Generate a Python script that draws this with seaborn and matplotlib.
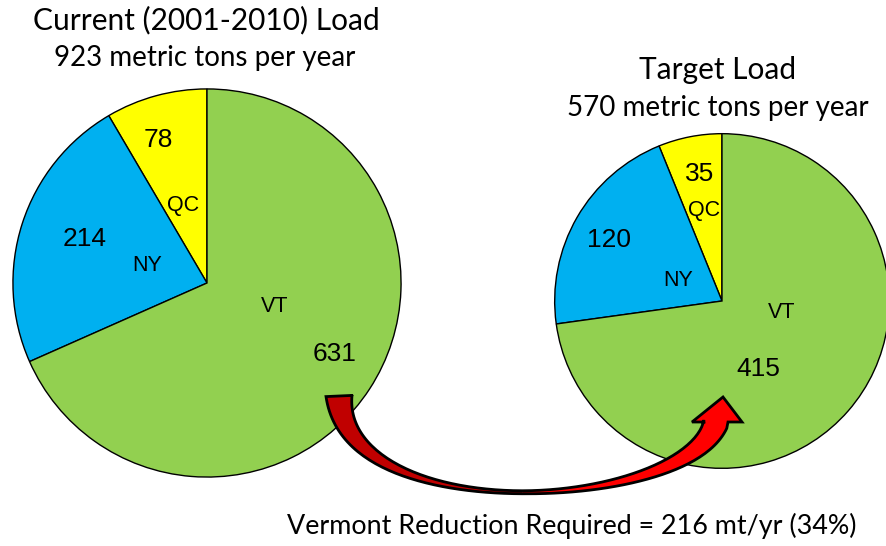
import numpy as np
import seaborn as sns
import matplotlib.pyplot as plt

# Load shares by jurisdiction, metric tons per year
regions = ["QC", "NY", "VT"]
current_load = [78, 214, 631]
target_load = [35, 120, 415]
colors = ["#FFFF00", "#00B0F0", "#92D050"]

current_title = "Current (2001-2010) Load"
target_title = "Target Load"
reduction_text = "Vermont Reduction Required = 216 mt/yr (34%)"

sns.set_style("white")
plt.rcParams["font.family"] = ["Lato", "DejaVu Sans"]
plt.rcParams["text.color"] = "black"

W, H = 887, 546
fig = plt.figure(figsize=(W / 100, H / 100), dpi=100)


def pie_axes(cx, cy, r):
    # pixel center / radius -> figure fraction axes
    return fig.add_axes([(cx - r) / W, (H - cy - r) / H, 2 * r / W, 2 * r / H])


# label spots (angle deg, radius fraction) for number and region name
left_num = [(108.8, 0.78), (160.3, 0.67), (-29, 0.75)]
left_reg = [(107, 0.42), (164, 0.32), (-19, 0.37)]
right_num = [(100, 0.77), (151.5, 0.77), (-62, 0.46)]
right_reg = [(101, 0.55), (155, 0.29), (-10.6, 0.36)]


def draw_pie(ax, values, num_pos, reg_pos):
    ax.pie(values, colors=colors, startangle=90, counterclock=True,
           wedgeprops=dict(edgecolor="black", linewidth=1.0))
    ax.set_xlim(-1.01, 1.01)
    ax.set_ylim(-1.01, 1.01)
    ax.set_aspect("equal")
    ax.axis("off")
    for v, name, (a1, r1), (a2, r2) in zip(values, regions, num_pos, reg_pos):
        t1, t2 = np.radians(a1), np.radians(a2)
        ax.text(r1 * np.cos(t1), r1 * np.sin(t1), str(v), ha="center", va="center",
                fontsize=19, family="Liberation Sans", color="black")
        ax.text(r2 * np.cos(t2), r2 * np.sin(t2), name, ha="center", va="center",
                fontsize=15.5, family="Liberation Sans", color="black")


ax_left = pie_axes(207, 283, 196)
draw_pie(ax_left, current_load, left_num, left_reg)
ax_right = pie_axes(722, 301, 169)
draw_pie(ax_right, target_load, right_num, right_reg)

fig.text(206 / W, 1 - 20 / H, current_title, ha="center", va="center", fontsize=21.5)
fig.text(205 / W, 1 - 58 / H, f"{sum(current_load)} metric tons per year",
         ha="center", va="center", fontsize=20)
fig.text(718 / W, 1 - 70 / H, target_title, ha="center", va="center", fontsize=21.5)
fig.text(718 / W, 1 - 108 / H, f"{sum(target_load)} metric tons per year",
         ha="center", va="center", fontsize=20)
fig.text(572 / W, 1 - 526 / H, reduction_text, ha="center", va="center", fontsize=19.4)

# curved reduction arrow, drawn in pixel space on top
ov = fig.add_axes([0, 0, 1, 1], zorder=5)
ov.set_xlim(0, W)
ov.set_ylim(H, 0)
ov.axis("off")

P = np.array([[339, 396], [345, 530], [690, 510], [716, 422]], float)
t = np.linspace(0, 1, 120)[:, None]
c = ((1 - t) ** 3 * P[0] + 3 * (1 - t) ** 2 * t * P[1]
     + 3 * (1 - t) * t ** 2 * P[2] + t ** 3 * P[3])
d = (-3 * (1 - t) ** 2 * P[0] + 3 * (1 - 4 * t + 3 * t ** 2) * P[1]
     + 3 * (2 * t - 3 * t ** 2) * P[2] + 3 * t ** 2 * P[3])
d /= np.linalg.norm(d, axis=1, keepdims=True)
n = np.column_stack([-d[:, 1], d[:, 0]])
tt = t[:, 0]
w = np.where(tt < 0.5, 3 + 23 * (1 - tt / 0.5) ** 2, 3 + 22 * ((tt - 0.5) / 0.5) ** 1.6)
side_a = c + n * w[:, None] / 2
side_b = c - n * w[:, None] / 2
side_a[-1, 1] = 422
side_b[-1, 1] = 422
barbs = np.array([[692, 422], [723, 397], [742, 422]])
if side_a[-1, 0] > side_b[-1, 0]:
    side_a, side_b = side_b, side_a

half = len(tt) // 2
dark = np.vstack([side_a[:half + 1], side_b[:half + 1][::-1]])
bright = np.vstack([side_a[half:], barbs, side_b[half:][::-1]])
ov.fill(dark[:, 0], dark[:, 1], color="#C00000", lw=0)
ov.fill(bright[:, 0], bright[:, 1], color="#FF0000", lw=0)
outline = np.vstack([side_a, barbs, side_b[::-1], side_a[:1]])
ov.plot(outline[:, 0], outline[:, 1], color="black", lw=2, solid_joinstyle="miter")

fig.savefig("out.png", dpi=100)
